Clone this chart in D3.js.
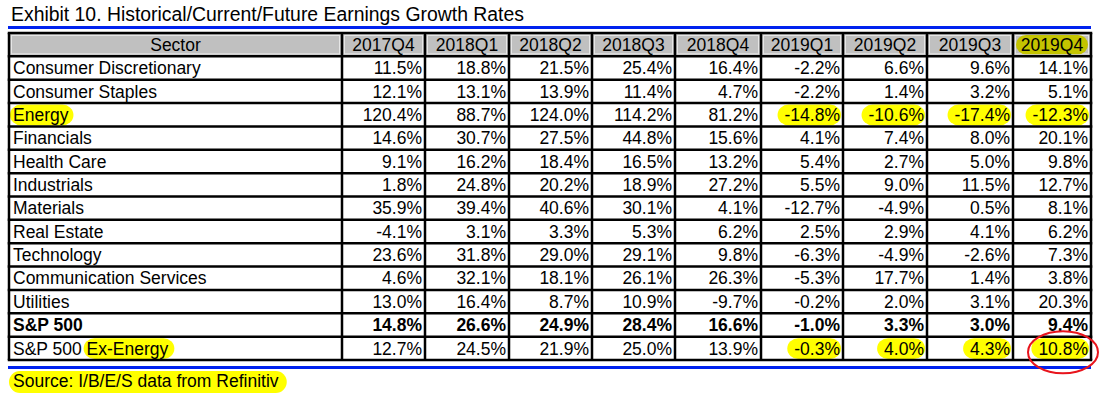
<!DOCTYPE html>
<html><head><meta charset="utf-8">
<script src="https://cdn.jsdelivr.net/npm/d3@7"></script>
<style>body{margin:0;background:#fff}svg{display:block;font-family:"Liberation Sans",Arial,sans-serif}</style>
</head><body><svg id="c" width="1100" height="401"></svg>
<script>
// ---- data ----
const title = "Exhibit 10. Historical/Current/Future Earnings Growth Rates";
const sourceNote = "Source: I/B/E/S data from Refinitiv";
const headerLabel = "Sector";
const quarters = ["2017Q4","2018Q1","2018Q2","2018Q3","2018Q4","2019Q1","2019Q2","2019Q3","2019Q4"];
const sectors = ["Consumer Discretionary","Consumer Staples","Energy","Financials","Health Care","Industrials","Materials","Real Estate","Technology","Communication Services","Utilities","S&P 500","S&P 500 Ex-Energy"];
const consumerDiscretionary = [11.5, 18.8, 21.5, 25.4, 16.4, -2.2, 6.6, 9.6, 14.1];
const consumerStaples       = [12.1, 13.1, 13.9, 11.4, 4.7, -2.2, 1.4, 3.2, 5.1];
const energy                = [120.4, 88.7, 124.0, 114.2, 81.2, -14.8, -10.6, -17.4, -12.3];
const financials            = [14.6, 30.7, 27.5, 44.8, 15.6, 4.1, 7.4, 8.0, 20.1];
const healthCare            = [9.1, 16.2, 18.4, 16.5, 13.2, 5.4, 2.7, 5.0, 9.8];
const industrials           = [1.8, 24.8, 20.2, 18.9, 27.2, 5.5, 9.0, 11.5, 12.7];
const materials             = [35.9, 39.4, 40.6, 30.1, 4.1, -12.7, -4.9, 0.5, 8.1];
const realEstate            = [-4.1, 3.1, 3.3, 5.3, 6.2, 2.5, 2.9, 4.1, 6.2];
const technology            = [23.6, 31.8, 29.0, 29.1, 9.8, -6.3, -4.9, -2.6, 7.3];
const communicationServices = [4.6, 32.1, 18.1, 26.1, 26.3, -5.3, 17.7, 1.4, 3.8];
const utilities             = [13.0, 16.4, 8.7, 10.9, -9.7, -0.2, 2.0, 3.1, 20.3];
const sp500                 = [14.8, 26.6, 24.9, 28.4, 16.6, -1.0, 3.3, 3.0, 9.4];
const sp500ExEnergy         = [12.7, 24.5, 21.9, 25.0, 13.9, -0.3, 4.0, 4.3, 10.8];
const seriesValues = [consumerDiscretionary, consumerStaples, energy, financials, healthCare, industrials, materials, realEstate, technology, communicationServices, utilities, sp500, sp500ExEnergy];
const boldRows = ["S&P 500"];
const highlightedCells = [["Energy","2019Q1"],["Energy","2019Q2"],["Energy","2019Q3"],["Energy","2019Q4"],
  ["S&P 500 Ex-Energy","2019Q1"],["S&P 500 Ex-Energy","2019Q2"],["S&P 500 Ex-Energy","2019Q3"],["S&P 500 Ex-Energy","2019Q4"]];
const highlightedNames = [["Energy","Energy"],["S&P 500 Ex-Energy","Ex-Energy"]];
const highlightedHeader = "2019Q4";
const circledCell = ["S&P 500 Ex-Energy","2019Q4"];

// ---- layout ----
const svg = d3.select("#c");
const FONT = 17.5;
const colEdges = [9, 342, 425, 509, 592, 675, 761, 843, 927, 1013, 1091];
const cols = [headerLabel, ...quarters];
const xL = d3.scaleOrdinal().domain(cols).range(colEdges.slice(0, -1));
const xR = d3.scaleOrdinal().domain(cols).range(colEdges.slice(1));
const rowKeys = ["__header", ...sectors];
const y = d3.scaleBand().domain(rowKeys).range([33, 360]).padding(0);
const h = y.bandwidth();
const YEL = "#ffff00";

const rows = sectors.map((s, i) => ({name: s, values: seriesValues[i]}));
const fmt = v => (v < 0 ? "-" : "") + Math.abs(v).toFixed(1) + "%";

// title
svg.append("text").attr("x", 11).attr("y", 21).attr("font-size", 19.4).attr("fill", "#000").text(title);

// blue rules
svg.append("rect").attr("x", 8).attr("y", 26).attr("width", 1083).attr("height", 3).attr("fill", "#0022ee");
svg.append("rect").attr("x", 8).attr("y", 366).attr("width", 1083).attr("height", 3).attr("fill", "#0022ee");

// header background
const gHead = svg.append("g");
gHead.selectAll("rect.hd").data(cols).join("rect")
  .attr("x", d => xL(d)).attr("y", y("__header"))
  .attr("width", d => xR(d) - xL(d)).attr("height", h).attr("fill", "#c0c0c0");
gHead.selectAll("rect.in").data(cols).join("rect")
  .attr("x", d => xL(d) + 2.5).attr("y", y("__header") + 2.5)
  .attr("width", d => xR(d) - xL(d) - 5).attr("height", h - 5)
  .attr("fill", "none").attr("stroke", "#e6e6e6").attr("stroke-width", 1);

// header highlight
svg.append("rect")
  .attr("x", xL(highlightedHeader) + 3).attr("y", y("__header") + 2)
  .attr("width", xR(highlightedHeader) - xL(highlightedHeader) - 6).attr("height", h - 4)
  .attr("rx", 10).attr("fill", "#c4c400");

const hlLayer = svg.append("g");
const textLayer = svg.append("g");

// header text
textLayer.selectAll("text.h").data(cols).join("text")
  .attr("x", d => (xL(d) + xR(d)) / 2)
  .attr("y", y("__header") + h / 2 + 6.2)
  .attr("text-anchor", "middle").attr("font-size", FONT).text(d => d);

// sector names
const nameTexts = textLayer.selectAll("text.n").data(rows).join("text")
  .attr("x", xL(headerLabel) + 4)
  .attr("y", d => y(d.name) + h / 2 + 6.2)
  .attr("font-size", FONT)
  .attr("font-weight", d => boldRows.includes(d.name) ? "bold" : "normal")
  .text(d => d.name);

// values
const cells = [];
rows.forEach(r => r.values.forEach((v, j) => cells.push({row: r.name, q: quarters[j], v})));
const valTexts = textLayer.selectAll("text.v").data(cells).join("text")
  .attr("x", d => xR(d.q) - 3)
  .attr("y", d => y(d.row) + h / 2 + 6.2)
  .attr("text-anchor", "end").attr("font-size", FONT)
  .attr("font-weight", d => boldRows.includes(d.row) ? "bold" : "normal")
  .text(d => fmt(d.v));

// value highlights
valTexts.filter(d => highlightedCells.some(c => c[0] === d.row && c[1] === d.q)).each(function(d) {
  const bb = this.getBBox();
  hlLayer.append("rect")
    .attr("x", bb.x - 7).attr("y", y(d.row) + 1.5)
    .attr("width", xR(d.q) - 2 - (bb.x - 7)).attr("height", h - 2.5)
    .attr("rx", 11).attr("fill", YEL);
});

// name highlights
nameTexts.each(function(d) {
  const m = highlightedNames.find(n => n[0] === d.name);
  if (!m) return;
  const start = d.name.indexOf(m[1]);
  const x0 = xL(headerLabel) + 4 + (start > 0 ? this.getSubStringLength(0, start) : 0);
  const w = this.getSubStringLength(start, m[1].length);
  hlLayer.append("rect")
    .attr("x", start > 0 ? x0 - 3 : xL(headerLabel) + 1).attr("y", y(d.name) + 1.5)
    .attr("width", w + (start > 0 ? 9 : 8)).attr("height", h - 2.5)
    .attr("rx", 11).attr("fill", YEL);
});

// grid borders
const grid = svg.append("g").attr("stroke", "#000").attr("stroke-width", 2.5);
grid.selectAll("line.v").data(colEdges).join("line")
  .attr("x1", d => d).attr("x2", d => d).attr("y1", 33).attr("y2", 360);
grid.selectAll("line.h").data([...rowKeys.map(k => y(k)), 360]).join("line")
  .attr("x1", 9 - 1.25).attr("x2", 1091 + 1.25).attr("y1", d => d).attr("y2", d => d);

// source
const gSrc = svg.append("g");
const srcBg = gSrc.append("rect");
const src = gSrc.append("text").attr("x", 13).attr("y", 387).attr("font-size", FONT).text(sourceNote);
const sbb = src.node().getBBox();
srcBg.attr("x", 9).attr("y", 371).attr("width", sbb.width + 12).attr("height", 22)
  .attr("rx", 11).attr("fill", YEL);

// circle annotation
const cx = (xL(circledCell[1]) + xR(circledCell[1])) / 2 + 11;
const cy = y(circledCell[0]) + h / 2 + 4;
svg.append("ellipse").attr("cx", cx).attr("cy", cy).attr("rx", 35).attr("ry", 21)
  .attr("fill", "none").attr("stroke", "#e8141c").attr("stroke-width", 2);
</script></body></html>
